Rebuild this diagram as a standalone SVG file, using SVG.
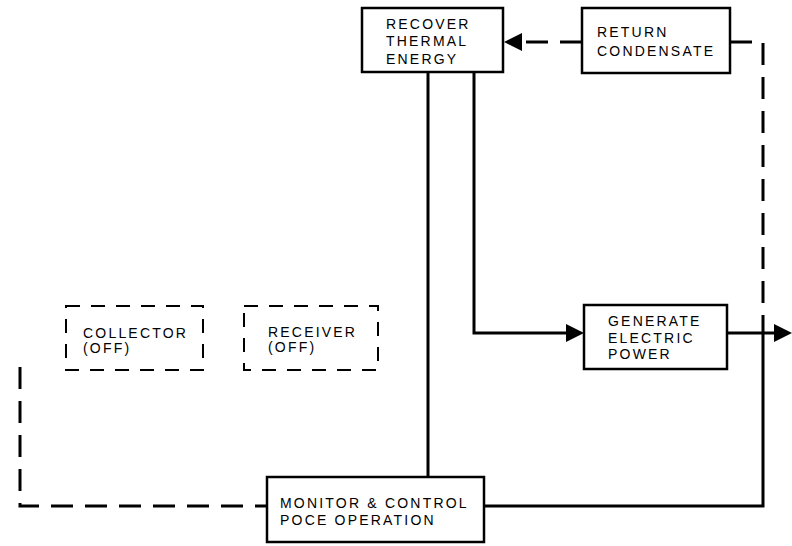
<svg xmlns="http://www.w3.org/2000/svg" width="792" height="546" viewBox="0 0 792 546">
<style>
.box{fill:#fff;stroke:#000;stroke-width:2.5}
.dbox{fill:none;stroke:#000;stroke-width:2;stroke-dasharray:14 11}
.t{font-family:"Liberation Sans",Arial,sans-serif;font-size:14px;letter-spacing:2.2px;fill:#000}
.s{fill:none;stroke:#000;stroke-width:3}
.d{fill:none;stroke:#000;stroke-width:3;stroke-dasharray:22 12}
.ah{fill:#000}
</style>
<rect width="792" height="546" fill="#fff"/>
<g id="connectors">
<path class="d" d="M582,42 H520"/>
<polygon class="ah" points="504,42 522,33 522,51"/>
<path class="d" d="M730,42 H763 V333"/>
<path class="s" d="M474,72 V333 H566"/>
<polygon class="ah" points="566,324 584,333 566,342"/>
<path class="s" d="M727,333 H775"/>
<polygon class="ah" points="774,324 792,333 774,342"/>
<path class="s" d="M428,72 V477"/>
<path class="s" d="M484,506 H763 V333"/>
<path class="d" d="M20,367 V506 H267"/>
</g>
<g id="recover">
<rect class="box" x="362" y="8" width="141" height="64"/>
<text class="t" x="386" y="29">RECOVER</text>
<text class="t" x="386" y="46">THERMAL</text>
<text class="t" x="386" y="64">ENERGY</text>
</g>
<g id="return">
<rect class="box" x="582" y="8" width="148" height="65"/>
<text class="t" x="597" y="37">RETURN</text>
<text class="t" x="597" y="56">CONDENSATE</text>
</g>
<g id="generate">
<rect class="box" x="584" y="305" width="143" height="64"/>
<text class="t" x="608" y="326">GENERATE</text>
<text class="t" x="608" y="343">ELECTRIC</text>
<text class="t" x="608" y="359">POWER</text>
</g>
<g id="collector">
<rect class="dbox" x="66" y="306" width="137" height="64"/>
<text class="t" x="83" y="338">COLLECTOR</text>
<text class="t" x="83" y="353">(OFF)</text>
</g>
<g id="receiver">
<rect class="dbox" x="244" y="306" width="134" height="64"/>
<text class="t" x="268" y="337">RECEIVER</text>
<text class="t" x="268" y="352">(OFF)</text>
</g>
<g id="monitor">
<rect class="box" x="267" y="477" width="217" height="65"/>
<text class="t" x="280" y="508">MONITOR &amp; CONTROL</text>
<text class="t" x="280" y="525">POCE OPERATION</text>
</g>
</svg>
